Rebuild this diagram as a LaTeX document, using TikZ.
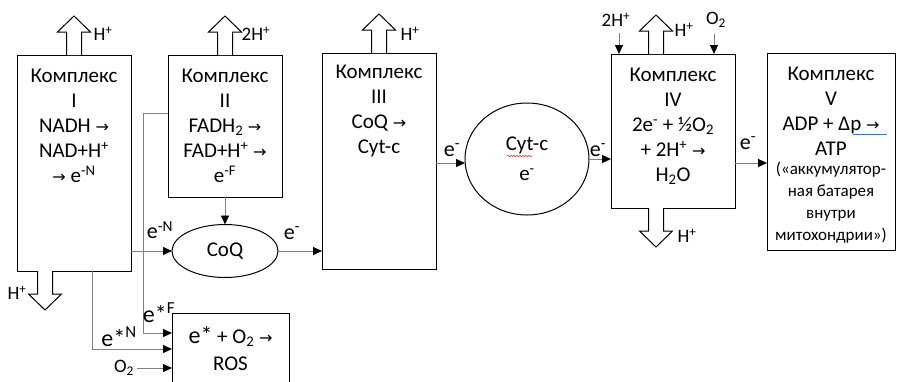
\documentclass[tikz,border=0pt]{standalone}
\usepackage{fontspec}
\setmainfont{Carlito}
\newfontfamily\symfont{DejaVu Sans}
\usetikzlibrary{arrows.meta,shapes.geometric,positioning,decorations.pathmorphing}
\definecolor{lngray}{HTML}{808080}
\definecolor{spellred}{HTML}{E0403A}
\definecolor{gramblue}{HTML}{3D6FD6}
\newcommand{\ra}{{\symfont\fontsize{16}{16}\selectfont →}}
\newcommand{\hplus}{H\textsuperscript{+}}
\newcommand{\eminus}{e\textsuperscript{-}}

\tikzset{
  cbox/.style={draw=black, line width=1pt, inner sep=0pt, outer sep=0pt,
    font=\fontsize{21}{21}\selectfont},
  ctext/.style={font=\fontsize{21}{25}\selectfont, align=center, inner sep=0pt, anchor=north},
  lab/.style={font=\fontsize{19}{19}\selectfont, inner sep=0pt},
  elab/.style={font=\fontsize{22}{22}\selectfont, inner sep=0pt},
  line/.style={draw=lngray, line width=0.9pt, -{Triangle[length=9pt,width=8pt,color=black]}},
  hollow/.style={draw=black, fill=white, line width=1pt},
  hup/.pic={\filldraw[hollow] (-7.5,0) -- (-7.5,-23) -- (-16.5,-23) -- (0,-39)
    -- (16.5,-23) -- (7.5,-23) -- (7.5,0);}
}

\begin{document}
\begin{tikzpicture}[x=1pt,y=-1pt]
  \useasboundingbox (0,0) rectangle (897,381);
  \clip (0,0) rectangle (897,381);
  % complexes
  \node[cbox, minimum width=114, minimum height=216] (c1) at (74,163) {};
  \node[cbox, minimum width=114, minimum height=142] (c2) at (225,126) {};
  \node[cbox, minimum width=114, minimum height=216] (c3) at (379,161) {};
  \node[cbox, minimum width=124, minimum height=154] (c4) at (673,131) {};
  \node[cbox, minimum width=128, minimum height=197] (c5) at (831,151.5) {};
  \node[cbox, minimum width=117, minimum height=90] (ros) at (230.5,358) {};
  % carriers
  \node[cbox, ellipse, minimum width=106, minimum height=53] (coq) at (225,251) {CoQ};
  \node[cbox, ellipse, minimum width=124, minimum height=112, align=center,
    font=\fontsize{21}{30}\selectfont] (cyt) at (527,159) {Cyt-c\\\eminus};
  % box texts
  \node[ctext] (t1) at ([yshift=-14pt]c1.north)
    {Комплекс\\I\\NADH \ra\\NAD+\hplus\\\ra{} e\textsuperscript{-N}};
  \node[ctext] (t2) at ([yshift=-14pt]c2.north)
    {Комплекс\\II\\FADH\textsubscript{2} \ra\\FAD+\hplus{} \ra\\e\textsuperscript{-F}};
  \node[ctext] (t3) at ([yshift=-12pt]c3.north)
    {Комплекс\\III\\CoQ \ra\\Cyt-c};
  \node[ctext] (t4) at ([yshift=-14pt]c4.north)
    {Комплекс\\IV\\2\eminus{} + ½O\textsubscript{2}\\+ 2\hplus{} \ra\\H\textsubscript{2}O};
  \node[ctext] (t5) at ([yshift=-14pt]c5.north)
    {Комплекс\\V\\ADP + Δp \ra\\ATP};
  \node[ctext, font=\fontsize{17}{22}\selectfont] (t5b) at ([yshift=-109pt]c5.north)
    {(«аккумулятор-\\ная батарея\\внутри\\митохондрии»)};
  \node[ctext, font=\fontsize{21}{27}\selectfont] (tr) at ([yshift=-13pt]ros.north)
    {{\fontsize{24}{24}\selectfont e*} + O\textsubscript{2} \ra\\ROS};
  % editor marks
  \draw[spellred, line width=0.6pt, decorate, decoration={snake, amplitude=0.8pt, segment length=3pt}]
    (507,156) -- (532,156);
  \draw[gramblue, line width=0.7pt] (853,134) -- (887,134);
  % proton pumps
  \pic at (c1.north) {hup};
  \pic at (c2.north) {hup};
  \pic at (c3.north) {hup};
  \pic at ([xshift=-17pt]c4.north) {hup};
  \pic[rotate=180] at ([xshift=-17pt]c4.south) {hup};
  \pic[rotate=180] at ([xshift=-29pt]c1.south) {hup};
  \node[lab] (h1) at (103,34) {\hplus};
  \node[lab] (h2) at (256,34) {2\hplus};
  \node[lab] (h3) at (410,34) {\hplus};
  \node[lab] (h4) at (684,30) {\hplus};
  \node[lab] (h4d) at (687,236) {\hplus};
  \node[lab] (h1d) at (17,293) {\hplus};
  % inputs of complex IV
  \node[lab] (h4in) at (616,20) {2\hplus};
  \node[lab] (o2b) at (716,20) {O\textsubscript{2}};
  \draw[line] ([xshift=3pt,yshift=-6pt]h4in.south) -- ([xshift=3pt]h4in.south |- c4.north);
  \draw[line] ([xshift=-2pt,yshift=-6pt]o2b.south) -- ([xshift=-2pt]o2b.south |- c4.north);
  % electron flow
  \draw[line] (coq.west -| c1.east) -- (coq.west);
  \draw[line] (c2.south) -- (coq.north);
  \draw[line] (coq.east) -- (coq.east -| c3.west);
  \draw[line] ([yshift=-4pt]cyt.west -| c3.east) -- ([yshift=-4pt]cyt.west);
  \draw[line] (cyt.east) -- (cyt.east -| c4.west);
  \draw[line] ([yshift=-32pt]c4.east) -- ([yshift=-32pt]c4.east -| c5.west);
  \node[elab] (lN) at (160,230) {e\textsuperscript{-N}};
  \node[elab] (l3) at (292,233) {\eminus};
  \node[elab] (l4) at (452,150) {\eminus};
  \node[elab] (l5) at (598,150) {\eminus};
  \node[elab] (l6) at (748,143) {\eminus};
  % leaks to ROS
  \coordinate (inF) at ([yshift=25pt]ros.west);
  \coordinate (inN) at ([yshift=9pt]ros.west);
  \coordinate (inO) at ([yshift=-10pt]ros.west);
  \draw[line] ([yshift=13pt]c2.west) -- ++(-25,0) |- (inF);
  \draw[line] ([xshift=18pt]c1.south) |- (inN);
  \node[lab] (o2a) at (124,368) {O\textsubscript{2}};
  \draw[line] ([xshift=3pt]o2a.east) -- (inO);
  \node[elab, font=\fontsize{24}{24}\selectfont] (lF) at (159,313) {e*\textsuperscript{F}};
  \node[elab, font=\fontsize{24}{24}\selectfont] (lsN) at (119,337) {e*\textsuperscript{N}};
\end{tikzpicture}
\end{document}
